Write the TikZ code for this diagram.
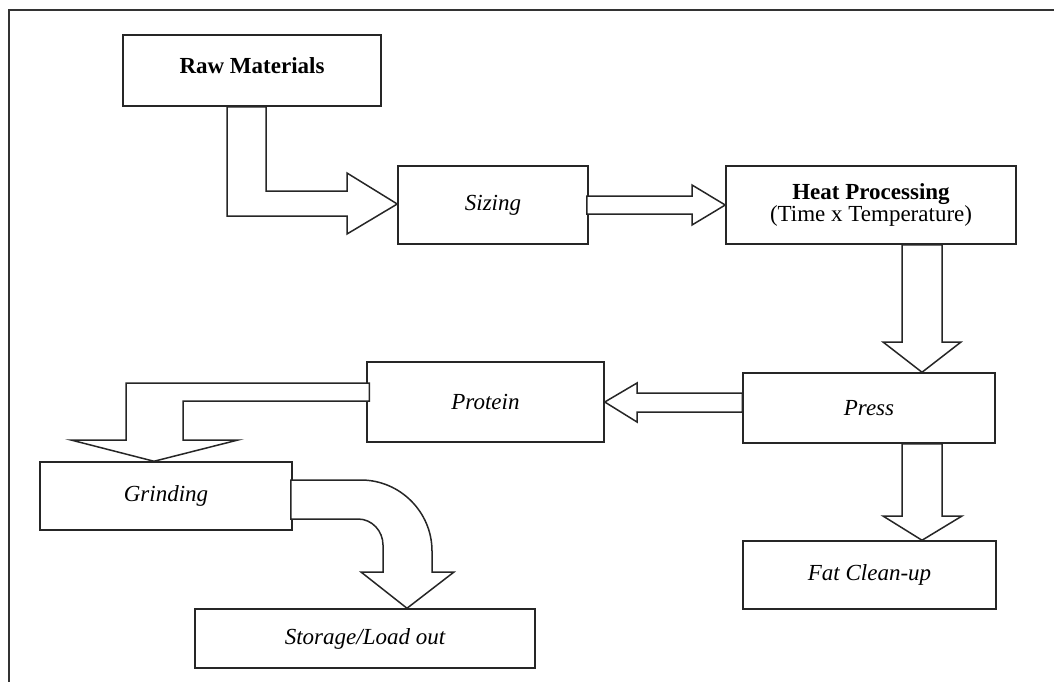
\documentclass[tikz,border=0pt]{standalone}
\usepackage{fontspec}
\setmainfont{Liberation Serif}
\usetikzlibrary{calc}
\tikzset{
  box/.style={draw=black!85, line width=1.5pt, fill=white, inner sep=0pt, font=\fontsize{23}{22.5}\selectfont, align=center},
  fat arrow/.style={draw=black!85, line width=1.5pt, line join=miter, fill=white},
  frame/.style={draw=black!80, line width=1.8pt}
}
\begin{document}
\begin{tikzpicture}[x=1pt,y=-1pt]
\useasboundingbox (0,0) rectangle (1054,681);
% outer frame (top and left only visible)
\coordinate (frTR) at (1060,10);
\coordinate (frTL) at (9,10);
\coordinate (frBL) at (9,690);
\draw[frame] (frTR) -- (frTL) -- (frBL);

% boxes
\node[box, minimum width=258, minimum height=71] (raw) at (252,70.5) {};
\node[font=\fontsize{23}{22.5}\selectfont\bfseries] (rawt) at (252,66) {Raw Materials};
\node[box, minimum width=190, minimum height=78] (sizing) at (493,205) {\itshape Sizing};
\node[box, minimum width=290, minimum height=78] (heat) at (871,205) {\textbf{Heat Processing}\\(Time x Temperature)};
\node[box, minimum width=252, minimum height=70] (press) at (869,408) {\itshape Press};
\node[box, minimum width=237, minimum height=80] (protein) at (485.5,402) {\itshape Protein};
\node[box, minimum width=252, minimum height=68] (grinding) at (166,496) {\itshape Grinding};
\node[box, minimum width=253, minimum height=68] (fat) at (869.5,575) {\itshape Fat Clean-up};
\node[box, minimum width=340, minimum height=59] (storage) at (365,638.5) {\itshape Storage/Load out};

% Raw Materials -> Sizing
\draw[fat arrow] ($(raw.south)+(-25,0)$) -- ($(raw.south)+(14,0)$) -- (266,191) -- (347,191) -- (347,173)
  -- ($(sizing.west)+(0,-1)$) -- (347,234) -- (347,216) -- (227,216) -- cycle;

% Sizing -> Heat Processing
\draw[fat arrow] ($(sizing.east)+(-2,-9)$) -- (692,196) -- (692,185) -- (heat.west)
  -- (692,225) -- (692,214) -- ($(sizing.east)+(-2,9)$) -- cycle;

% Heat Processing -> Press
\draw[fat arrow] ($(heat.south)+(31,0)$) -- ($(heat.south)+(71,0)$) -- (942,342) -- (961,342)
  -- ($(press.north)+(53,0)$) -- (883,342) -- (902,342) -- cycle;

% Press -> Protein
\draw[fat arrow] ($(press.west)+(0,-15)$) -- (637,393) -- (637,383) -- (protein.east)
  -- (637,422) -- (637,412) -- ($(press.west)+(0,4)$) -- cycle;

% Protein -> Grinding
\draw[fat arrow] ($(protein.west)+(3,-19)$) -- (126,383) -- (126,440) -- (71,440)
  -- ($(grinding.north)+(-12,0)$) -- (238,440) -- (183,440) -- (183,401) -- ($(protein.west)+(3,-1)$) -- cycle;

% Press -> Fat Clean-up
\draw[fat arrow] ($(press.south)+(33,0)$) -- ($(press.south)+(73,0)$) -- (942,516) -- (962,516)
  -- ($(fat.north)+(52.5,0)$) -- (883,516) -- (902,516) -- cycle;

% Grinding -> Storage/Load out (curved)
\draw[fat arrow] ($(grinding.east)+(-2,-16)$) -- (361,480)
  .. controls (400,480) and (432,512) .. (432,551) -- (432,572) -- (454,572)
  -- ($(storage.north)+(42,0)$) -- (361,572) -- (383,572) -- (383,545)
  .. controls (383,531) and (372,519) .. (358,519) -- ($(grinding.east)+(-2,23)$) -- cycle;
\end{tikzpicture}
\end{document}
